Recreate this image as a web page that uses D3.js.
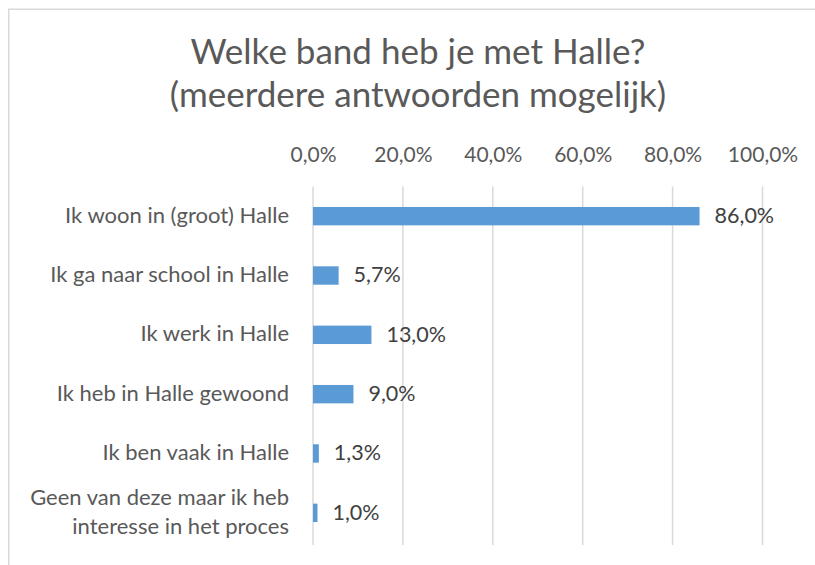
<!DOCTYPE html>
<html><head><meta charset="utf-8">
<script src="https://cdn.jsdelivr.net/npm/d3@7"></script>
<style>body{margin:0;background:#fff}svg{display:block}text{font-family:Lato,"Open Sans",sans-serif}</style>
</head><body><svg id="c" width="815" height="565"></svg>
<script>
const categories = ["Ik woon in (groot) Halle","Ik ga naar school in Halle","Ik werk in Halle","Ik heb in Halle gewoond","Ik ben vaak in Halle","Geen van deze maar ik heb interesse in het proces"];
const categoryLines = [["Ik woon in (groot) Halle"],["Ik ga naar school in Halle"],["Ik werk in Halle"],["Ik heb in Halle gewoond"],["Ik ben vaak in Halle"],["Geen van deze maar ik heb","interesse in het proces"]];
const values = [86.0, 5.7, 13.0, 9.0, 1.3, 1.0];
const ticks = [0,20,40,60,80,100];
const titleLines = ["Welke band heb je met Halle?","(meerdere antwoorden mogelijk)"];
const fmt = v => d3.format(".1f")(v).replace(".", ",") + "%";

const svg = d3.select("#c");
svg.append("rect").attr("x",8.75).attr("y",9.25).attr("width",820).attr("height",570).attr("fill","#fff").attr("stroke","#d9d9d9").attr("stroke-width",1.5);

const x = d3.scaleLinear().domain([0,100]).range([313,762.5]);
const y = d3.scaleBand().domain(categories).range([186.5,542.5]).paddingInner(0.69).paddingOuter(0.345);

svg.append("g").selectAll("text").data(titleLines).join("text")
  .attr("x",418).attr("y",(d,i)=>64+i*43).attr("text-anchor","middle")
  .attr("fill","#595959").style("font-size","35px").text(d=>d);

const ax = d3.axisTop(x).tickValues(ticks).tickSize(0).tickPadding(0).tickFormat(fmt);
const gA = svg.append("g").attr("transform","translate(0,162)").call(ax);
gA.select(".domain").remove();
gA.selectAll("text").attr("fill","#595959").style("font-size","21px").attr("dy",0).style("font-family","Lato,'Open Sans',sans-serif");

svg.append("g").selectAll("line").data(ticks).join("line")
  .attr("x1",d=>x(d)).attr("x2",d=>x(d)).attr("y1",186.5).attr("y2",545)
  .attr("stroke","#d9d9d9").attr("stroke-width",1.5);

svg.append("g").selectAll("rect").data(values).join("rect")
  .attr("x",x(0)).attr("y",(d,i)=>y(categories[i])).attr("height",y.bandwidth())
  .attr("width",d=>x(d)-x(0)).attr("fill","#5b9bd5");

svg.append("g").selectAll("text").data(values).join("text")
  .attr("x",d=>x(d)+15).attr("y",(d,i)=>y(categories[i])+y.bandwidth()/2).attr("dy","0.32em")
  .attr("fill","#404040").style("font-size","21.5px").text(d=>fmt(d));

const gL = svg.append("g");
categoryLines.forEach((lines,i)=>{
  const cy = y(categories[i])+y.bandwidth()/2;
  const t = gL.append("text").attr("text-anchor","end").attr("fill","#595959").style("font-size","22px");
  lines.forEach((l,j)=>{
    t.append("tspan").attr("x",289).attr("y",cy+(j-(lines.length-1)/2)*28.5).attr("dy","0.3em").text(l);
  });
});
</script></body></html>
